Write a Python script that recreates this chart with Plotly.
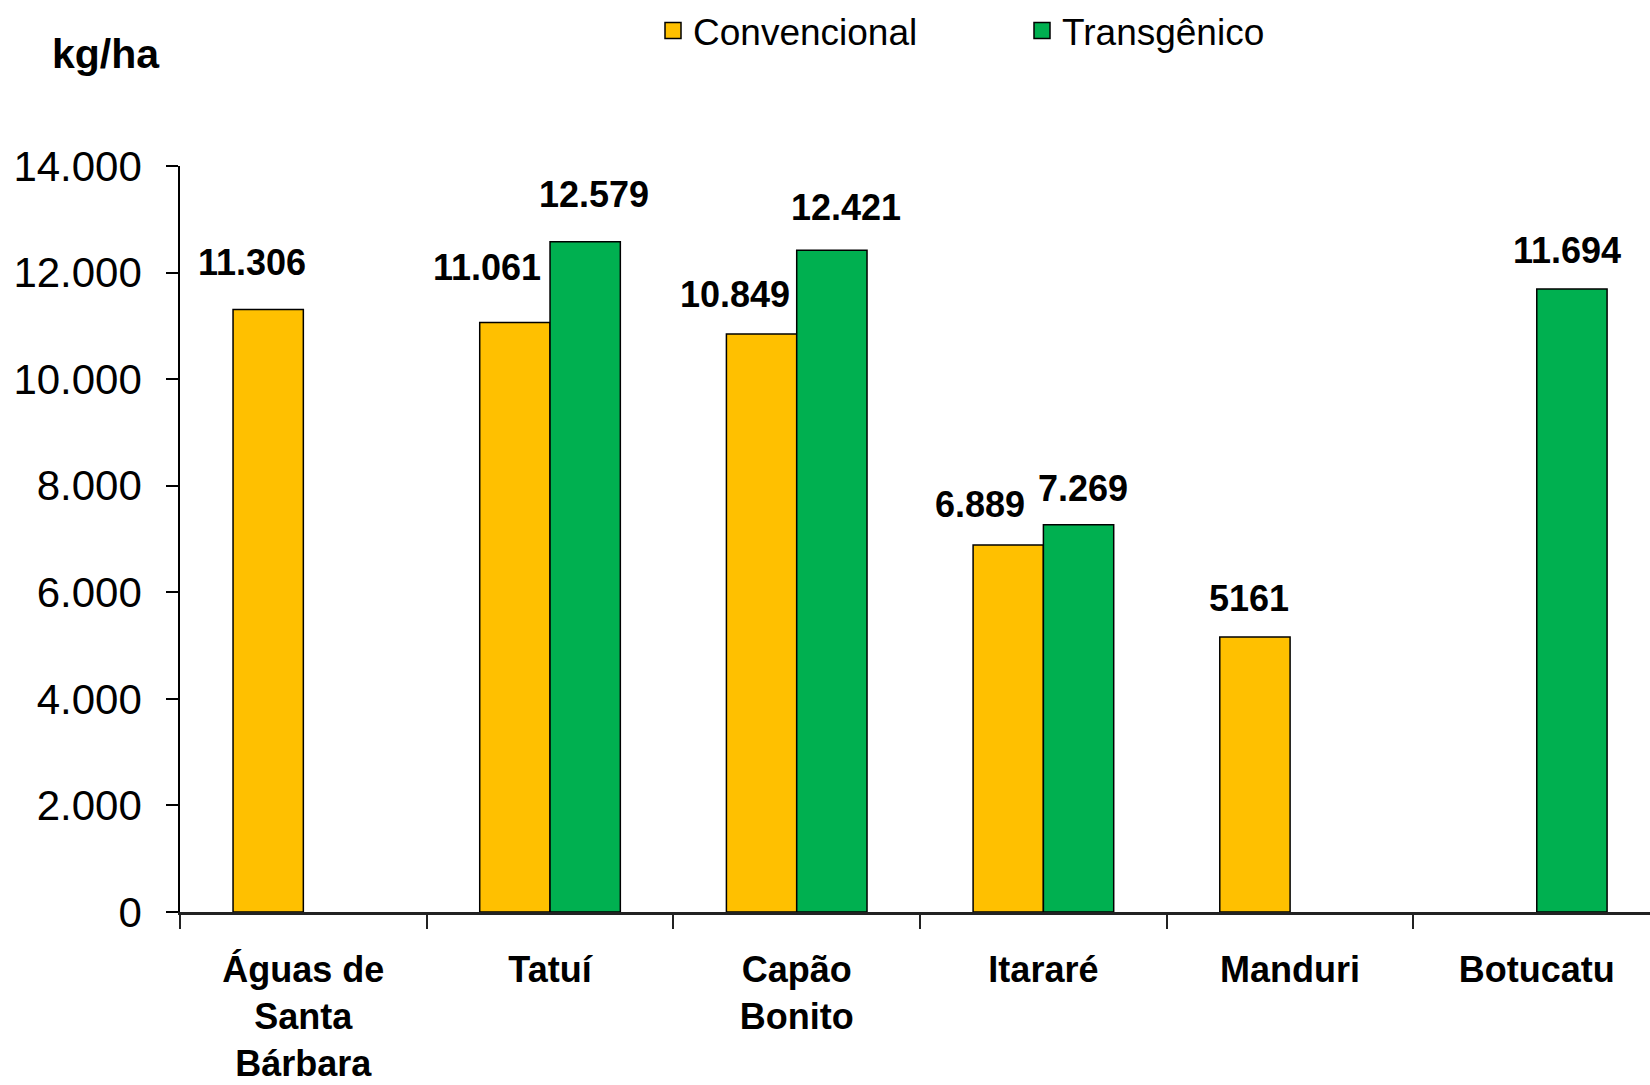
import plotly.graph_objects as go

categories = ["Águas de Santa Bárbara", "Tatuí", "Capão Bonito", "Itararé", "Manduri", "Botucatu"]
x_tick_labels = ["Águas de<br>Santa<br>Bárbara", "Tatuí", "Capão<br>Bonito", "Itararé", "Manduri", "Botucatu"]
convencional = [11306, 11061, 10849, 6889, 5161, None]
transgenico = [None, 12579, 12421, 7269, None, 11694]
conv_labels = ["11.306", "11.061", "10.849", "6.889", "5161", None]
trans_labels = [None, "12.579", "12.421", "7.269", None, "11.694"]
y_ticks = [0, 2000, 4000, 6000, 8000, 10000, 12000, 14000]

YELLOW = "#FFC000"
GREEN = "#00B050"
BARGAP = 0.43
bar_w = (1 - BARGAP) / 2

# pixel offsets of the (manually moved) data labels, relative to bar top centre
conv_shift = [(-16, 47), (-28, 55), (-27, 39), (-28, 40), (-6, 38), None]
trans_shift = [None, (9, 47), (14, 43), (4, 36), None, (-5, 38)]

W, H = 1650, 1085
ML, MR, MT, MB = 180, 0, 166, 173
PW, PH = W - ML - MR, H - MT - MB

fig = go.Figure()
fig.add_trace(go.Bar(x=categories, y=convencional, name="Convencional",
                     marker=dict(color=YELLOW, line=dict(color="black", width=1.5)),
                     showlegend=False))
fig.add_trace(go.Bar(x=categories, y=transgenico, name="Transgênico",
                     marker=dict(color=GREEN, line=dict(color="black", width=1.5)),
                     showlegend=False))
# legend entries
for nm, col in [("Convencional", YELLOW), ("Transgênico", GREEN)]:
    fig.add_trace(go.Scatter(x=[None], y=[None], mode="markers", name=nm,
                             marker=dict(symbol="square", size=16, color=col,
                                         line=dict(color="black", width=1.5))))

annotations = []
for i, cat in enumerate(categories):
    for vals, labs, shifts, side in [(convencional, conv_labels, conv_shift, -1),
                                     (transgenico, trans_labels, trans_shift, 1)]:
        if vals[i] is None:
            continue
        dx, dy = shifts[i]
        annotations.append(dict(
            x=i + side * bar_w / 2, y=vals[i], xref="x", yref="y",
            text=labs[i], showarrow=False, xanchor="center", yanchor="middle",
            xshift=dx, yshift=dy,
            font=dict(family="Liberation Sans, Arial, sans-serif", size=36, color="black", weight="bold")))

annotations.append(dict(
    x=(50 - ML) / PW, y=(H - MB - 54) / PH, xref="paper", yref="paper", text="kg/ha",
    showarrow=False, xanchor="left", yanchor="middle",
    font=dict(family="Liberation Sans, Arial, sans-serif", size=41, color="black", weight="bold")))

fig.update_layout(
    width=W, height=H,
    margin=dict(l=ML, r=MR, t=MT, b=MB, autoexpand=False),
    paper_bgcolor="white", plot_bgcolor="white",
    barmode="group", bargap=BARGAP, bargroupgap=0,
    separators=",.",
    showlegend=True,
    legend=dict(orientation="h", xref="container", yref="container",
                x=653 / W, y=1 - 0 / H, xanchor="left", yanchor="top",
                entrywidth=324, entrywidthmode="pixels",
                font=dict(family="Liberation Sans Narrow, Arial Narrow, Liberation Sans, Arial", size=37, color="black"),
                bgcolor="rgba(0,0,0,0)"),
    annotations=annotations,
)
fig.update_xaxes(
    type="category", range=[-0.5, 5.459], automargin=False,
    tickmode="array", tickvals=list(range(len(categories))), ticktext=x_tick_labels,
    showline=True, linecolor="#222222", linewidth=2.5,
    ticks="outside", tickson="boundaries", ticklen=14, tickcolor="#222222", tickwidth=1.5,
    ticklabelstandoff=24,
    tickfont=dict(family="Liberation Sans, Arial, sans-serif", size=36, color="black", weight="bold"),
    showgrid=False, zeroline=False, fixedrange=True,
)
fig.update_yaxes(
    range=[0, 14000], tickmode="array", tickvals=y_ticks, tickformat=",d", automargin=False,
    showline=True, linecolor="black", linewidth=1.5,
    ticks="outside", ticklen=12, tickcolor="black", tickwidth=1.5,
    ticklabelstandoff=16,
    tickfont=dict(family="Liberation Sans, Arial, sans-serif", size=42, color="black"),
    showgrid=False, zeroline=False, fixedrange=True,
)

fig.write_html("out.html", config={"displayModeBar": False},
               post_script="document.body.style.margin='0';document.body.style.overflow='hidden';")
